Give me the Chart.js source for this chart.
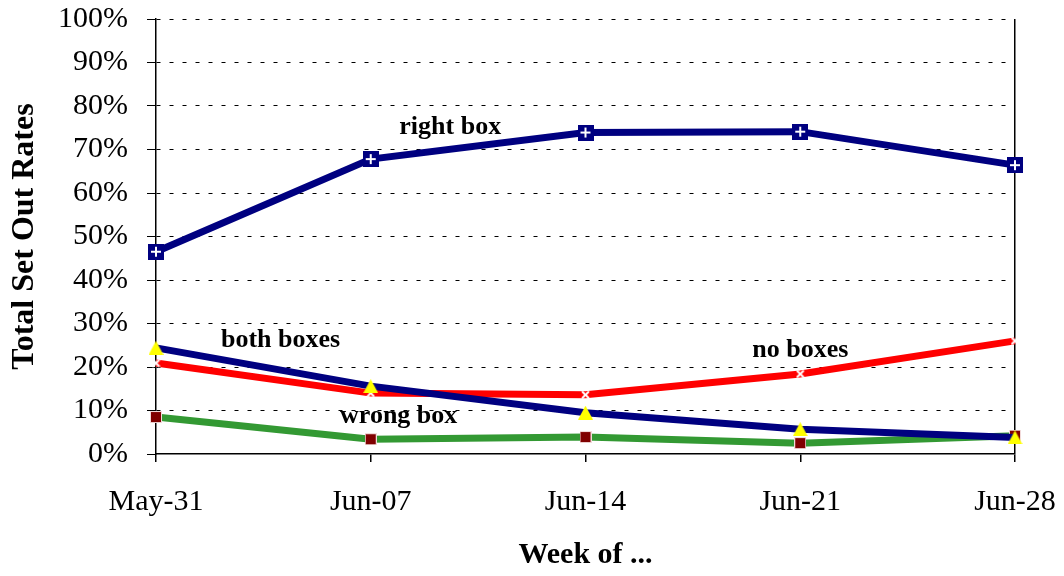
<!DOCTYPE html>
<html>
<head>
<meta charset="utf-8">
<script src="https://cdn.jsdelivr.net/npm/chart.js@4"></script>
<style>
  html, body { margin: 0; padding: 0; background: #fff; }
</style>
</head>
<body>
<canvas id="chart" width="1064" height="576"></canvas>
<script>
const weeks = ['May-31', 'Jun-07', 'Jun-14', 'Jun-21', 'Jun-28'];
const rightBox = [46.5, 67.8, 73.9, 74.1, 66.4];
const bothBoxes = [24.4, 15.6, 9.5, 5.7, 3.8];
const noBoxes = [20.9, 14.0, 13.6, 18.4, 26.0];
const wrongBox = [8.5, 3.4, 3.9, 2.5, 4.2];
const seriesNames = ['right box', 'both boxes', 'no boxes', 'wrong box'];

const serif = "'Liberation Serif', 'Times New Roman', serif";

// small canvases used as point markers
function marker(w, h, draw) {
  const c = document.createElement('canvas');
  c.width = w; c.height = h;
  draw(c.getContext('2d'), w, h);
  return c;
}
const plusBox = marker(16, 16, (g, w, h) => {
  g.fillStyle = '#000080';
  g.fillRect(0, 0, w, h);
  g.fillStyle = '#fff';
  g.fillRect(3, 7, 10, 2);
  g.fillRect(7, 3, 2, 10);
});
const triangle = marker(15, 14, (g, w, h) => {
  g.fillStyle = '#ffff00';
  g.beginPath();
  g.moveTo(w / 2, 0);
  g.lineTo(w, h);
  g.lineTo(0, h);
  g.closePath();
  g.fill();
});
const whiteX = marker(9, 9, (g, w, h) => {
  g.strokeStyle = '#fff';
  g.lineWidth = 2;
  g.beginPath();
  g.moveTo(1, 1); g.lineTo(w - 1, h - 1);
  g.moveTo(w - 1, 1); g.lineTo(1, h - 1);
  g.stroke();
});
const redSquare = marker(12, 12, (g, w, h) => {
  g.fillStyle = '#f2dada';
  g.fillRect(0, 0, w, h);
  g.fillStyle = '#800000';
  g.fillRect(1, 1, w - 2, h - 2);
});

// series names written next to the lines, in data coordinates
const nameSpots = [[1.37, 75.2], [0.58, 26.2], [3.0, 23.8], [1.13, 8.6]];
const seriesNamesPlugin = {
  id: 'seriesNames',
  afterDatasetsDraw(chart) {
    const { ctx, scales: { x, y } } = chart;
    ctx.save();
    ctx.font = 'bold 26px ' + serif;
    ctx.fillStyle = '#000';
    ctx.textAlign = 'center';
    ctx.textBaseline = 'middle';
    seriesNames.forEach((name, i) => {
      ctx.fillText(name, x.getPixelForValue(nameSpots[i][0]), y.getPixelForValue(nameSpots[i][1]));
    });
    ctx.restore();
  }
};

function line(label, data, color, point) {
  return {
    label, data,
    borderColor: color,
    backgroundColor: color,
    borderWidth: 7,
    pointStyle: point,
    pointRadius: 8,
    tension: 0,
    clip: false
  };
}

new Chart(document.getElementById('chart'), {
  type: 'line',
  data: {
    labels: weeks,
    datasets: [
      line('right box', rightBox, '#000080', plusBox),
      line('both boxes', bothBoxes, '#000080', triangle),
      line('no boxes', noBoxes, '#ff0000', whiteX),
      line('wrong box', wrongBox, '#339933', redSquare)
    ]
  },
  options: {
    responsive: false,
    animation: false,
    layout: { padding: { top: 19, right: 49, left: 0, bottom: 0 } },
    plugins: {
      legend: { display: false },
      tooltip: { enabled: false }
    },
    scales: {
      x: {
        offset: false,
        afterFit: s => {
          s.height = 122;
          s.paddingLeft = 0;
          s.paddingRight = 0;
        },
        grid: {
          color: c => c.index === weeks.length - 1 ? '#000' : 'rgba(0,0,0,0)',
          lineWidth: 1.5,
          tickColor: '#000',
          tickLength: 8
        },
        border: { color: '#000', width: 1.5 },
        ticks: {
          color: '#000',
          padding: 22,
          maxRotation: 0,
          font: { family: serif, size: 30 }
        },
        title: {
          display: true,
          text: 'Week of ...',
          color: '#000',
          padding: { top: 0, bottom: 3 },
          font: { family: serif, size: 30, weight: 'bold' }
        }
      },
      y: {
        min: 0,
        max: 100,
        afterFit: s => {
          s.width = 156;
          s.paddingTop = 0;
          s.paddingBottom = 0;
        },
        ticks: {
          stepSize: 10,
          color: '#000',
          padding: 19,
          callback: v => v + '%',
          font: { family: serif, size: 30 }
        },
        grid: {
          color: c => c.index === 0 ? 'rgba(0,0,0,0)' : '#000',
          lineWidth: 1,
          tickColor: '#000',
          tickLength: 9,
          tickBorderDash: [1, 0]
        },
        border: { color: '#000', width: 1.5, dash: [4, 9] },
        title: {
          display: true,
          text: 'Total Set Out Rates',
          color: '#000',
          padding: { top: 6, bottom: 0 },
          font: { family: serif, size: 32, weight: 'bold' }
        }
      }
    }
  },
  plugins: [seriesNamesPlugin]
});
</script>
</body>
</html>
